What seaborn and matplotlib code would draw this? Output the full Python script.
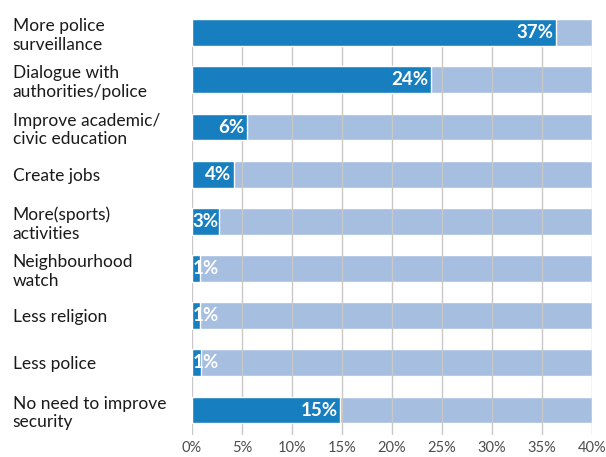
import matplotlib
matplotlib.use("Agg")
import matplotlib.pyplot as plt
import seaborn as sns
import pandas as pd

categories = [
    "More police\nsurveillance",
    "Dialogue with\nauthorities/police",
    "Improve academic/\ncivic education",
    "Create jobs",
    "More(sports)\nactivities",
    "Neighbourhood\nwatch",
    "Less religion",
    "Less police",
    "No need to improve\nsecurity",
]
values = [36.4, 23.9, 5.5, 4.2, 2.7, 0.8, 0.8, 0.9, 14.8]
value_labels = ["37%", "24%", "6%", "4%", "3%", "1%", "1%", "1%", "15%"]
background = [40, 40, 40, 40, 40, 40, 40, 40, 40]
xticks = [0, 5, 10, 15, 20, 25, 30, 35, 40]

DARK = "#177fc0"
LIGHT = "#a6bfe0"

sns.set_theme(style="white")
plt.rcParams["font.family"] = ["Lato", "DejaVu Sans"]

df = pd.DataFrame({"cat": categories, "val": values, "bg": background})

fig = plt.figure(figsize=(6.06, 4.57), dpi=100)
ax = fig.add_axes([192 / 606, 1 - 435 / 457, 400 / 606, 416 / 457])

sns.barplot(data=df, x="bg", y="cat", color=LIGHT, width=0.57, orient="h",
            ax=ax, saturation=1, zorder=1)
sns.barplot(data=df, x="val", y="cat", color=DARK, width=0.57, orient="h",
            ax=ax, saturation=1, zorder=2)

for i, (v, lab) in enumerate(zip(values, value_labels)):
    if v < 3:
        ax.text(0.05, i, lab, ha="left", va="center", color="white",
                fontsize=13.5, fontweight="bold", zorder=3)
    else:
        ax.text(v - 0.25, i, lab, ha="right", va="center", color="white",
                fontsize=13.5, fontweight="bold", zorder=3)

ax.set_axisbelow("line")
ax.xaxis.grid(True, color="#c8c8c8", linewidth=1)
ax.yaxis.grid(False)
ax.set_xlim(0, 40)
ax.set_ylim(8.53, -0.29)
ax.set_xticks(xticks)
ax.set_xticklabels([f"{t}%" for t in xticks], color="#4d4d4d", fontsize=10.5)
ax.set_yticks(range(len(categories)))
ax.set_yticklabels(categories, ha="left", fontsize=12.5, color="#1a1a1a",
                   linespacing=1.2)
ax.tick_params(axis="y", length=0, pad=129)
ax.tick_params(axis="x", length=0, pad=4)
ax.set_xlabel("")
ax.set_ylabel("")
for s in ax.spines.values():
    s.set_visible(False)

fig.savefig("out.png", dpi=100)
